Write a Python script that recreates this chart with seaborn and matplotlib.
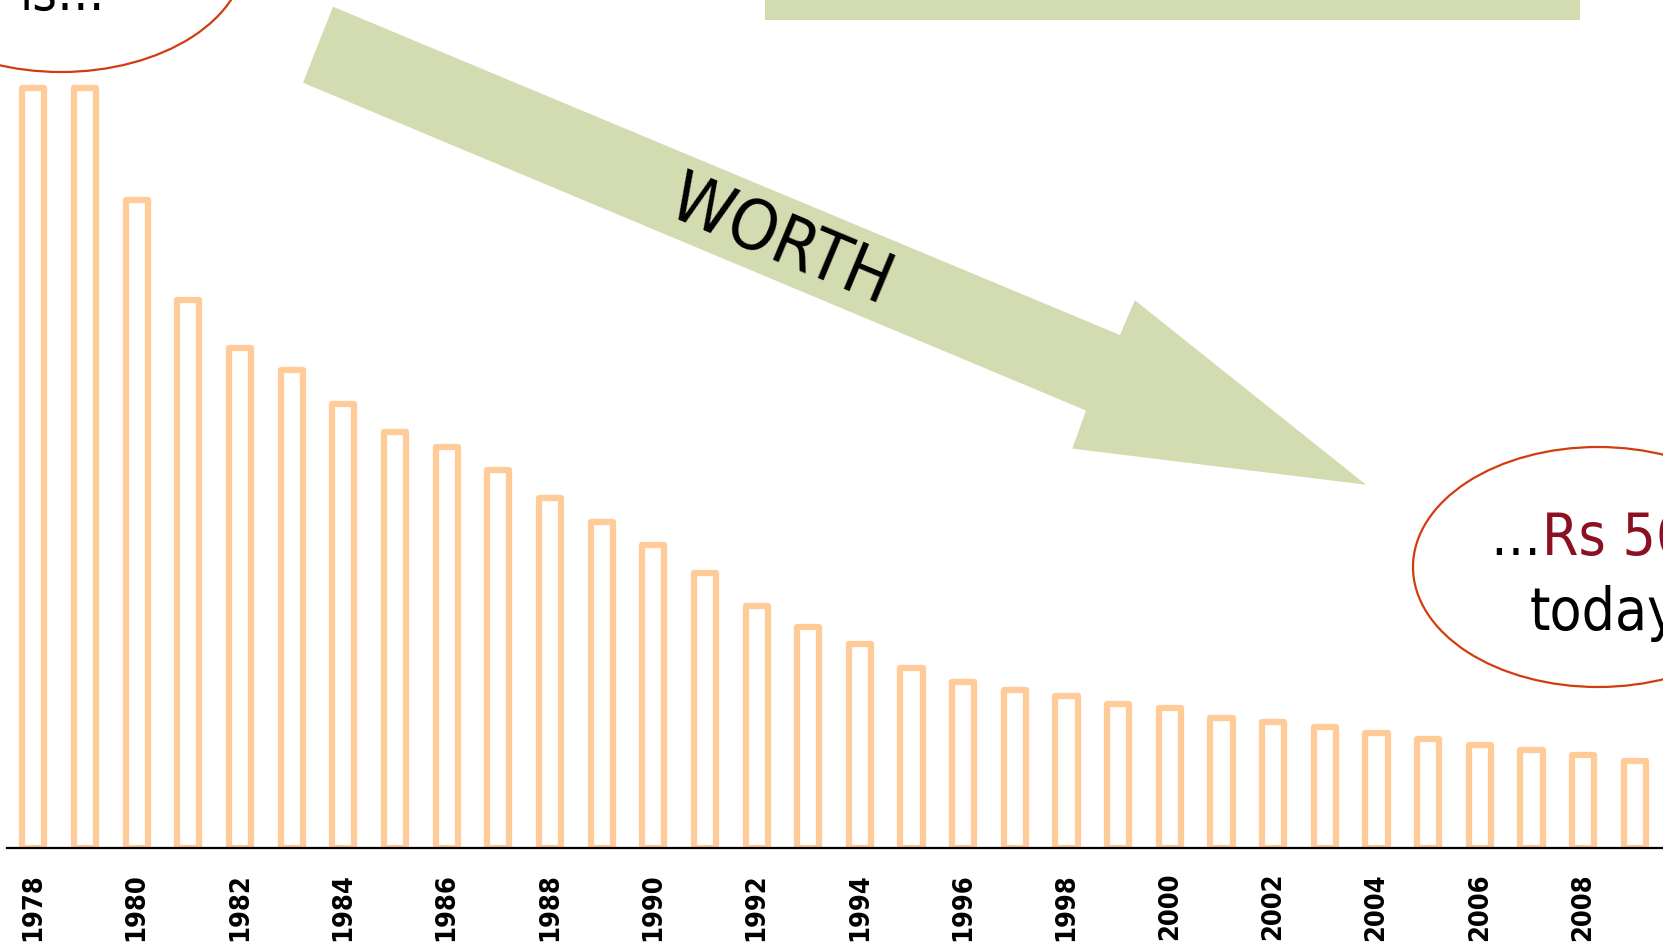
import matplotlib
matplotlib.use("Agg")
import matplotlib.pyplot as plt
from matplotlib import font_manager
from matplotlib.patches import Polygon, Ellipse, Rectangle
import pandas as pd
import seaborn as sns

# -----------------------------
# Data
# -----------------------------
years = list(range(1978, 2010))
values = [489, 489, 417, 353, 322, 308, 286, 268, 258, 243, 225, 210,
          195, 177, 156, 142, 131, 116, 107, 102, 98, 93, 90, 84,
          81, 78, 74, 70, 66, 63, 60, 56]
tick_years = years[::2]

df = pd.DataFrame({"year": [str(y) for y in years], "value": values})

# -----------------------------
# Pick a narrow font if one is installed
# -----------------------------
narrow = None
for f in font_manager.fontManager.ttflist:
    if "Narrow" in f.name or "Condensed" in f.name or f.stretch in ("condensed", "semi-condensed"):
        if f.style == "normal" and f.weight in (400, "normal"):
            narrow = f
            break

if narrow is not None:
    family = [narrow.name, "DejaVu Sans"]
    stretch = narrow.stretch
else:
    family = ["Roboto", "DejaVu Sans"]
    stretch = "normal"

# -----------------------------
# Style
# -----------------------------
sns.set_style("white")
plt.rcParams["font.family"] = family
plt.rcParams["font.stretch"] = stretch

W, H = 1663, 942
fig = plt.figure(figsize=(W / 100, H / 100), dpi=100)
fig.patch.set_facecolor("white")

# bar chart axes
left_px, base_px = 7.3, 848
ax = fig.add_axes([left_px / W, (H - base_px) / H, (W - left_px) / W, base_px / H])
ax.set_facecolor("none")

sns.barplot(data=df, x="year", y="value", color="white", edgecolor="#ffcc99",
            linewidth=4.5, width=0.43, ax=ax)
for p in ax.patches:
    p.set_joinstyle("round")
    p.set_facecolor("white")

ax.set_xlim(-0.505, 31.545)
ax.set_ylim(0, 848 * 56 / 87)
ax.set_xlabel("")
ax.set_ylabel("")
ax.set_yticks([])
ax.set_xticks([years.index(y) for y in tick_years])
ax.set_xticklabels([str(y) for y in tick_years], rotation=90, fontsize=19.5,
                   color="black", stretch=stretch, fontweight="bold")
ax.tick_params(axis="x", length=0, pad=18)
sns.despine(ax=ax, left=True, top=True, right=True)
ax.spines["bottom"].set_color("black")
ax.spines["bottom"].set_linewidth(1.6)

# -----------------------------
# Decorations (pixel overlay)
# -----------------------------
ov = fig.add_axes([0, 0, 1, 1])
ov.set_xlim(0, W)
ov.set_ylim(H, 0)
ov.axis("off")
ov.set_facecolor("none")

green = "#d3dbb0"
ov.add_patch(Rectangle((765, -5), 815, 25, facecolor=green, edgecolor="none"))

arrow = [(333, 6.7), (1120, 335), (1134.8, 300.2), (1366, 484.7),
         (1072.3, 448.6), (1086, 410.5), (303, 82.7)]
ov.add_patch(Polygon(arrow, closed=True, facecolor=green, edgecolor="none"))
ov.text(781, 242, "WORTH", fontsize=50, rotation=-22.7, rotation_mode="anchor",
        ha="center", va="center", color="black", stretch=stretch,
        fontweight="light")

ell_col = "#d33c0e"
ov.add_patch(Ellipse((61, -47), 370, 238, facecolor="white", edgecolor=ell_col,
                     linewidth=1.6))
ov.add_patch(Ellipse((1598, 567), 370, 240, facecolor="white", edgecolor=ell_col,
                     linewidth=1.6))

ov.text(20, 10, "is…", fontsize=38, ha="left", va="baseline", color="black",
        stretch=stretch)
ov.text(1490, 555, "…", fontsize=40, ha="left", va="baseline", color="black",
        stretch=stretch)
ov.text(1542, 555, "Rs 56", fontsize=42, ha="left", va="baseline",
        color="#8b1122", stretch=stretch)
ov.text(1530, 630, "today", fontsize=42, ha="left", va="baseline",
        color="black", stretch=stretch)

fig.savefig("out.png", dpi=100)
